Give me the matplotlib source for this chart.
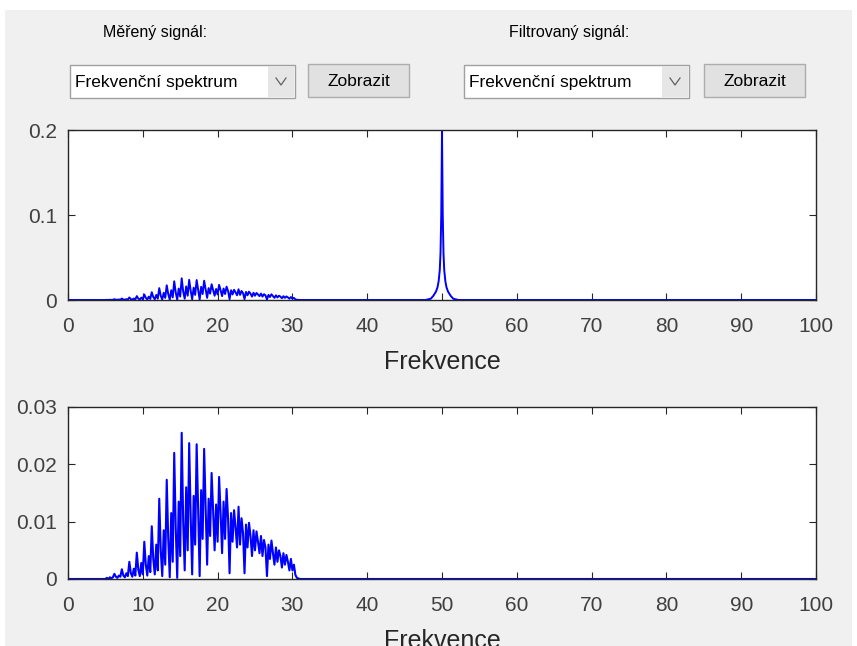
import matplotlib
matplotlib.use("Agg")
import matplotlib.pyplot as plt
from matplotlib.patches import Rectangle
import numpy as np

plt.rcParams["font.family"] = ["Liberation Sans", "DejaVu Sans"]

# Spectrum of the low band (5 - 31 Hz, step 0.2 Hz), values in 1e-3
band_start = 5.0
band_step = 0.2
band_vals = [
    0.0, 0.2, 0.0, 0.3, 0.1,      # 5 Hz
    0.3, 0.9, 0.4, 0.2, 0.6,      # 6
    0.4, 1.7, 0.6, 0.3, 1.0,      # 7
    0.5, 3.0, 1.0, 0.4, 1.8,      # 8
    0.6, 4.6, 1.6, 0.5, 2.8,      # 9
    0.8, 6.5, 2.5, 0.6, 4.0,      # 10
    1.2, 9.2, 3.5, 0.8, 6.0,      # 11
    1.5, 14.0, 5.0, 0.5, 8.5,     # 12
    2.5, 17.3, 7.0, 0.3, 11.5,    # 13
    3.0, 22.0, 9.0, 0.2, 13.5,    # 14
    4.0, 25.5, 10.0, 1.5, 16.0,   # 15
    5.0, 23.7, 11.0, 0.8, 14.5,   # 16
    6.0, 23.5, 12.0, 0.5, 15.5,   # 17
    7.0, 22.7, 12.5, 2.5, 14.0,   # 18
    7.5, 18.5, 12.0, 5.0, 13.0,   # 19
    6.5, 17.8, 11.5, 4.5, 13.5,   # 20
    7.0, 15.7, 10.5, 1.0, 11.5,   # 21
    6.5, 12.0, 9.0, 5.5, 12.6,    # 22
    6.0, 10.6, 8.0, 1.0, 9.5,     # 23
    5.5, 9.8, 7.5, 4.0, 8.5,      # 24
    5.0, 8.3, 6.5, 4.5, 7.5,      # 25
    4.0, 6.8, 5.5, 0.5, 6.0,      # 26
    3.5, 6.7, 4.5, 2.5, 5.5,      # 27
    3.0, 5.0, 4.0, 2.0, 4.5,      # 28
    2.5, 4.2, 3.0, 1.5, 3.5,      # 29
    1.5, 2.5, 0.7, 0.2, 0.1,      # 30
    0.0,                          # 31
]

# 50 Hz mains peak in the measured signal
peak_freq = [48.0, 48.5, 48.85, 49.2, 49.4, 49.55, 49.7, 49.8, 49.9, 50.0,
             50.1, 50.2, 50.3, 50.45, 50.6, 50.8, 51.15, 51.5, 52.0]
peak_vals = [0.0005, 0.0015, 0.005, 0.01, 0.015, 0.022, 0.035, 0.055, 0.1, 0.198,
             0.1, 0.055, 0.035, 0.022, 0.015, 0.01, 0.005, 0.0015, 0.0005]

x_ticks = list(range(0, 101, 10))
top_yticks = [0, 0.1, 0.2]
top_ylabels = ["0", "0.1", "0.2"]
bot_yticks = [0, 0.01, 0.02, 0.03]
bot_ylabels = ["0", "0.01", "0.02", "0.03"]

# frequency grid
grid = np.round(np.arange(0, 100.001, band_step), 1)
band_freq = np.round(band_start + band_step * np.arange(len(band_vals)), 1)
filtered = np.zeros_like(grid)
idx = np.searchsorted(grid, band_freq)
filtered[idx] = np.array(band_vals) * 1e-3

# measured = filtered + mains peak
mask = (grid < peak_freq[0]) | (grid > peak_freq[-1])
meas_f = np.concatenate([grid[mask], peak_freq])
meas_v = np.concatenate([filtered[mask], peak_vals])
order = np.argsort(meas_f)
meas_f, meas_v = meas_f[order], meas_v[order]

W, H = 857, 646
fig = plt.figure(figsize=(W / 100, H / 100), dpi=100, facecolor="white")

# gray GUI panel
fig.add_artist(Rectangle((5 / W, 0), (852 - 5) / W, 1 - 10 / H,
                         transform=fig.transFigure, facecolor="#f0f0f0",
                         edgecolor="none", zorder=0))


def px_rect(x0, y0, x1, y1, **kw):
    fig.add_artist(Rectangle((x0 / W, 1 - y1 / H), (x1 - x0) / W, (y1 - y0) / H,
                             transform=fig.transFigure, **kw))


def px_text(x, y, s, **kw):
    fig.text(x / W, 1 - y / H, s, **kw)


def widgets(label_x, label, dd_x0, btn_x0):
    px_text(label_x, 32, label, fontsize=11.5, ha="center", va="center",
            color="#000000")
    # dropdown
    px_rect(dd_x0, 65, dd_x0 + 225, 98, facecolor="white",
            edgecolor="#a0a0a0", linewidth=1)
    px_rect(dd_x0 + 198, 66, dd_x0 + 224, 97, facecolor="#e6e6e6",
            edgecolor="none")
    px_text(dd_x0 + 5, 82, "Frekvenční spektrum", fontsize=12.5,
            ha="left", va="center", color="#000000")
    cx = dd_x0 + 211
    fig.add_artist(plt.Line2D([(cx - 5) / W, cx / W, (cx + 5) / W],
                              [1 - 78 / H, 1 - 85 / H, 1 - 78 / H],
                              transform=fig.transFigure, color="#606060",
                              linewidth=0.9))
    # button
    px_rect(btn_x0, 64, btn_x0 + 101, 97, facecolor="#e1e1e1",
            edgecolor="#adadad", linewidth=1)
    px_text(btn_x0 + 50.5, 81, "Zobrazit", fontsize=12.5, ha="center",
            va="center", color="#000000")


widgets(155, "Měřený signál:", 70, 308)
widgets(569, "Filtrovaný signál:", 464, 704)


def style(ax, yticks, ylabels, ymax):
    ax.set_facecolor("white")
    ax.set_xlim(0, 100)
    ax.set_ylim(0, ymax)
    ax.set_xticks(x_ticks)
    ax.set_yticks(yticks)
    ax.set_yticklabels(ylabels)
    ax.tick_params(direction="in", length=5, width=0.8, colors="#262626",
                   labelcolor="#404040", labelsize=15, top=True, right=True,
                   pad=8)
    ax.tick_params(axis="x", pad=12)
    for sp in ax.spines.values():
        sp.set_color("#262626")
        sp.set_linewidth(1.0)
    ax.set_xlabel("Frekvence", fontsize=18, color="#262626", labelpad=10)


ax1 = fig.add_axes([68 / W, 1 - 300 / H, (816 - 68) / W, (300 - 130) / H])
ax1.plot(meas_f, meas_v, color="#0000ff", linewidth=1.4)
style(ax1, top_yticks, top_ylabels, 0.2)

ax2 = fig.add_axes([68 / W, 1 - 579 / H, (816 - 68) / W, (579 - 407) / H])
ax2.plot(grid, filtered, color="#0000ff", linewidth=1.5)
style(ax2, bot_yticks, bot_ylabels, 0.03)

fig.savefig("out.png", dpi=100, facecolor=fig.get_facecolor())
